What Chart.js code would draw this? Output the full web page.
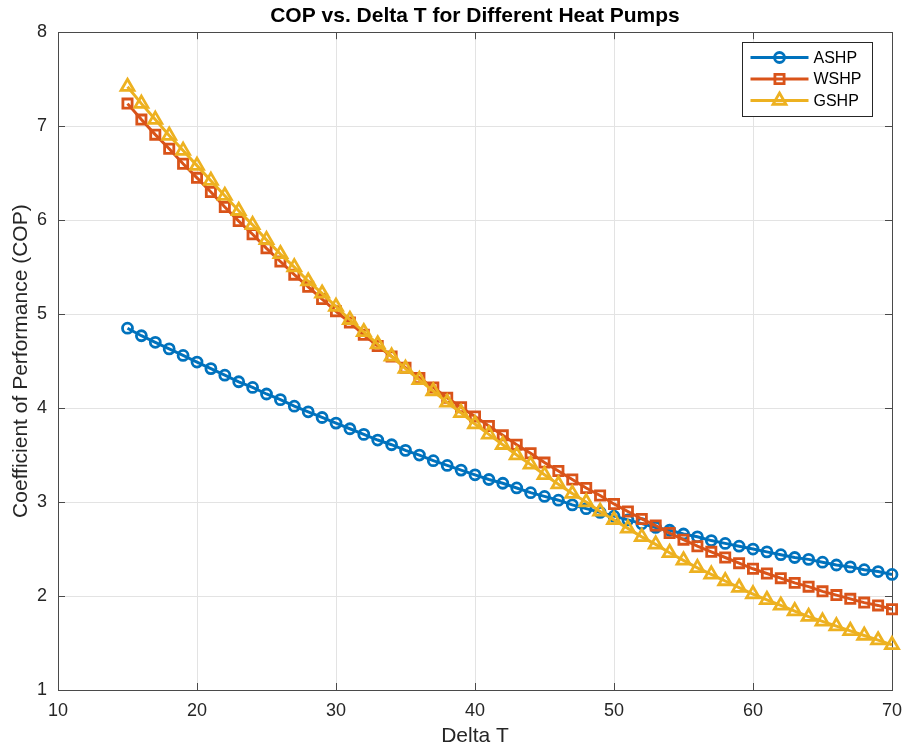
<!DOCTYPE html>
<html>
<head>
<meta charset="utf-8">
<title>COP vs. Delta T</title>
<script src="https://cdn.jsdelivr.net/npm/chart.js@4.4.0/dist/chart.umd.min.js"></script>
<style>
  html, body { margin: 0; padding: 0; background: #fff; }
  #wrap { width: 903px; height: 749px; }
</style>
</head>
<body>
<div id="wrap"><canvas id="copChart" width="903" height="749"></canvas></div>
<script>
// Delta T values (x) and COP readings for each heat pump type
const deltaT = [15, 16, 17, 18, 19, 20, 21, 22, 23, 24, 25, 26, 27, 28, 29, 30, 31, 32, 33, 34,
    35, 36, 37, 38, 39, 40, 41, 42, 43, 44, 45, 46, 47, 48, 49, 50, 51, 52, 53, 54,
    55, 56, 57, 58, 59, 60, 61, 62, 63, 64, 65, 66, 67, 68, 69, 70];
const ashp = [4.85, 4.77, 4.70, 4.63, 4.56, 4.49, 4.42, 4.35, 4.28, 4.22, 4.15, 4.09, 4.02, 3.96, 3.90,
    3.84, 3.78, 3.72, 3.66, 3.61, 3.55, 3.50, 3.44, 3.39, 3.34, 3.29, 3.24, 3.20, 3.15, 3.10,
    3.06, 3.02, 2.97, 2.93, 2.89, 2.85, 2.81, 2.77, 2.73, 2.70, 2.66, 2.63, 2.59, 2.56, 2.53,
    2.50, 2.47, 2.44, 2.41, 2.39, 2.36, 2.33, 2.31, 2.28, 2.26, 2.23];
const wshp = [7.24, 7.07, 6.91, 6.76, 6.60, 6.45, 6.30, 6.14, 5.99, 5.85, 5.70, 5.56, 5.42, 5.29, 5.16,
    5.03, 4.91, 4.78, 4.66, 4.55, 4.43, 4.32, 4.22, 4.11, 4.01, 3.91, 3.81, 3.71, 3.61, 3.52,
    3.42, 3.33, 3.24, 3.15, 3.07, 2.98, 2.90, 2.82, 2.75, 2.67, 2.60, 2.53, 2.47, 2.41, 2.35,
    2.29, 2.24, 2.19, 2.14, 2.10, 2.05, 2.01, 1.97, 1.93, 1.90, 1.86];
const gshp = [7.42, 7.24, 7.07, 6.90, 6.74, 6.58, 6.42, 6.26, 6.10, 5.95, 5.79, 5.64, 5.50, 5.35, 5.22,
    5.08, 4.94, 4.81, 4.68, 4.55, 4.42, 4.30, 4.18, 4.06, 3.95, 3.83, 3.72, 3.61, 3.50, 3.40,
    3.29, 3.19, 3.09, 3.00, 2.90, 2.81, 2.72, 2.63, 2.55, 2.46, 2.38, 2.30, 2.23, 2.16, 2.09,
    2.02, 1.96, 1.90, 1.84, 1.78, 1.73, 1.68, 1.63, 1.58, 1.53, 1.48];
const seriesNames = ['ASHP', 'WSHP', 'GSHP'];

// Axis limits / tick steps
const xRange = [10, 70];
const yRange = [1, 8];
const xStep = 10;
const yStep = 1;

const FONT = "'Liberation Sans', Arial, Helvetica, sans-serif";
const TEXT = '#262626';
Chart.defaults.font.family = FONT;

function toPoints(ys) {
    return deltaT.map((t, i) => ({ x: t, y: ys[i] }));
}

function series(label, ys, color, style, radius, order) {
    return {
        label: label,
        data: toPoints(ys),
        borderColor: color,
        backgroundColor: 'rgba(0,0,0,0)',
        borderWidth: 3,
        pointStyle: style,
        pointRadius: radius,
        pointBorderWidth: 2.8,
        pointBorderColor: color,
        pointBackgroundColor: 'rgba(0,0,0,0)',
        tension: 0,
        clip: false,
        order: order
    };
}

// Box round the plot, inward tick marks, and the legend inside the axes
const axesFrame = {
    id: 'axesFrame',
    beforeDatasetsDraw(chart) {
        const { ctx, chartArea: a, scales: { x, y } } = chart;
        const len = 7;
        ctx.save();
        ctx.strokeStyle = '#4a4a4a';
        ctx.lineWidth = 1;
        ctx.strokeRect(Math.round(a.left) + 0.5, Math.round(a.top) + 0.5,
            Math.round(a.right - a.left), Math.round(a.bottom - a.top));
        ctx.beginPath();
        x.ticks.forEach(t => {
            const px = Math.round(x.getPixelForValue(t.value)) + 0.5;
            ctx.moveTo(px, a.bottom); ctx.lineTo(px, a.bottom - len);
            ctx.moveTo(px, a.top); ctx.lineTo(px, a.top + len);
        });
        y.ticks.forEach(t => {
            const py = Math.round(y.getPixelForValue(t.value)) + 0.5;
            ctx.moveTo(a.left, py); ctx.lineTo(a.left + len, py);
            ctx.moveTo(a.right, py); ctx.lineTo(a.right - len, py);
        });
        ctx.stroke();
        ctx.restore();
    },
    afterDraw(chart) {
        const { ctx, chartArea: a } = chart;
        const w = 130, h = 74;
        const left = Math.round(a.right - 20 - w) + 0.5;
        const top = Math.round(a.top + 10) + 0.5;
        ctx.save();
        ctx.fillStyle = '#fff';
        ctx.fillRect(left, top, w, h);
        ctx.strokeStyle = '#262626';
        ctx.lineWidth = 1;
        ctx.strokeRect(left, top, w, h);
        chart.data.datasets.forEach((ds, i) => {
            const cy = top + 15 + i * 21.5;
            ctx.strokeStyle = ds.borderColor;
            ctx.lineWidth = ds.borderWidth;
            ctx.beginPath();
            ctx.moveTo(left + 8, cy);
            ctx.lineTo(left + 66, cy);
            ctx.stroke();
            ctx.fillStyle = 'rgba(0,0,0,0)';
            ctx.lineWidth = ds.pointBorderWidth;
            Chart.helpers.drawPoint(ctx, {
                pointStyle: ds.pointStyle,
                radius: ds.pointRadius,
                rotation: 0,
                borderWidth: ds.pointBorderWidth
            }, left + 37, cy);
            ctx.fillStyle = '#000';
            ctx.font = '16px ' + FONT;
            ctx.textAlign = 'left';
            ctx.textBaseline = 'middle';
            ctx.fillText(ds.label, left + 71, cy + 1);
        });
        ctx.restore();
    }
};

const ctx = document.getElementById('copChart').getContext('2d');
const copChart = new Chart(ctx, {
    type: 'line',
    data: {
        datasets: [
            series(seriesNames[0], ashp, '#0072BD', 'circle', 5, 3),
            series(seriesNames[1], wshp, '#D95319', 'rect', 6.5, 2),
            series(seriesNames[2], gshp, '#EDB120', 'triangle', 7.5, 1)
        ]
    },
    options: {
        responsive: false,
        animation: false,
        events: [],
        layout: { padding: { left: 0, right: 0, top: 0, bottom: 0 } },
        plugins: {
            legend: { display: false },
            tooltip: { enabled: false },
            title: {
                display: true,
                fullSize: false,
                text: 'COP vs. Delta T for Different Heat Pumps',
                color: '#000',
                font: { size: 21, weight: 'bold' },
                padding: { top: 4, bottom: 3 }
            }
        },
        scales: {
            x: {
                type: 'linear',
                min: xRange[0],
                max: xRange[1],
                ticks: { stepSize: xStep, color: TEXT, font: { size: 18 }, padding: 10 },
                grid: { color: '#e3e3e3', drawTicks: false },
                border: { display: false },
                title: {
                    display: true, text: 'Delta T', color: TEXT,
                    font: { size: 21 }, padding: { top: 0, bottom: 0 }
                },
                afterFit(scale) {
                    scale.height = 59;
                    scale.paddingRight = 11;
                }
            },
            y: {
                type: 'linear',
                min: yRange[0],
                max: yRange[1],
                ticks: { stepSize: yStep, color: TEXT, font: { size: 18 }, padding: 11 },
                grid: { color: '#e3e3e3', drawTicks: false },
                border: { display: false },
                title: {
                    display: true, text: 'Coefficient of Performance (COP)', color: TEXT,
                    font: { size: 21 }, padding: { top: 9, bottom: 0 }
                },
                afterFit(scale) { scale.width = 58; }
            }
        }
    },
    plugins: [axesFrame]
});
</script>
</body>
</html>
